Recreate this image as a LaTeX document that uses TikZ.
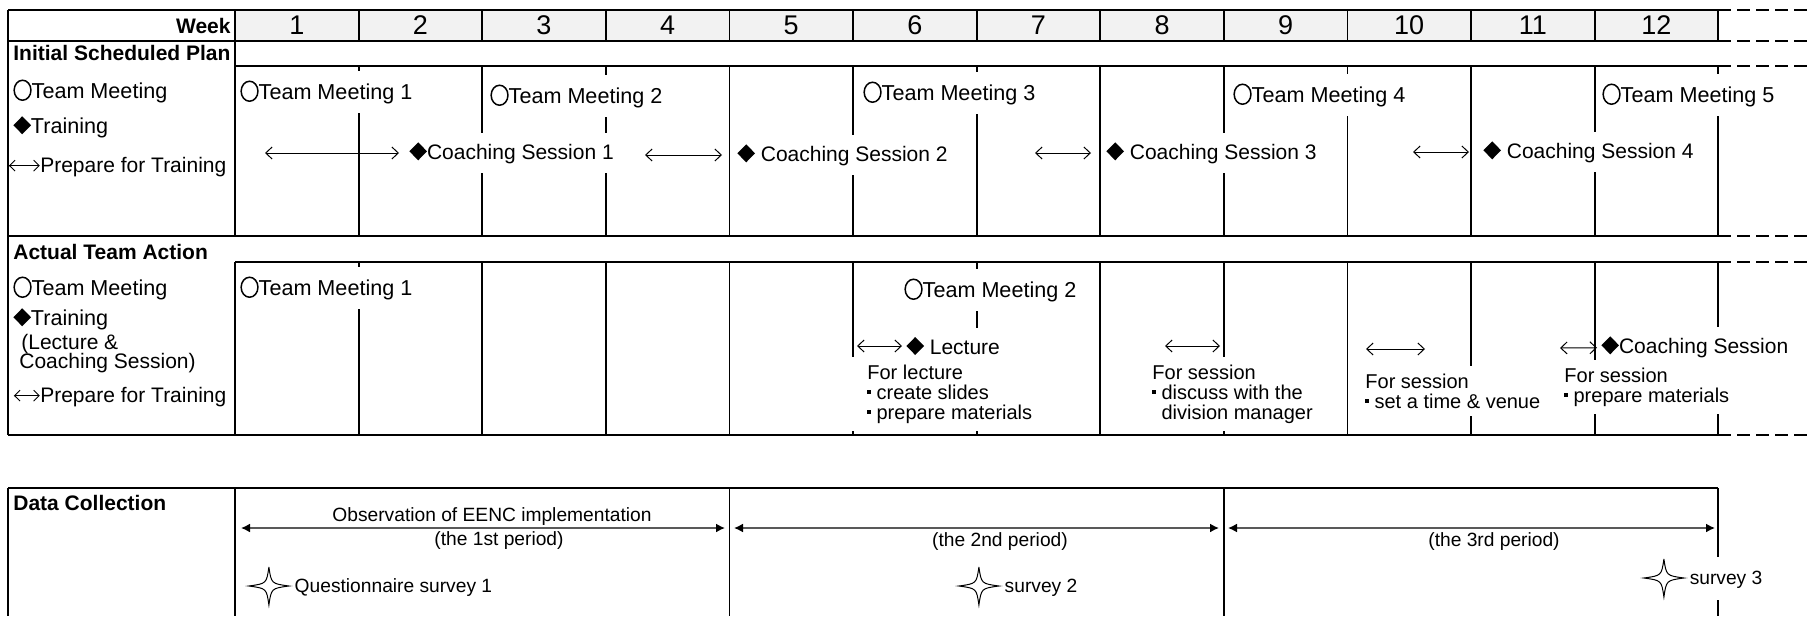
\documentclass[tikz,border=0pt]{standalone}
\usepackage{fontspec}
\setmainfont{Liberation Sans}
\usetikzlibrary{arrows.meta}

% small symbols that sit inside the labels
\newcommand{\mtg}{\tikz[baseline=-3.9pt]\draw[black,line width=0.75pt] (0,0) ellipse (4.2pt and 5pt);}
\newcommand{\trn}{\tikz[baseline=-4pt]\fill[black] (0,4.5pt) -- (4.4pt,0) -- (0,-4.5pt) -- (-4.4pt,0) -- cycle;}
\newcommand{\prp}[1]{\tikz[baseline=-3.4pt]\draw[black,line width=0.45pt,{Straight Barb[length=2.8pt,width=5.5pt]}-{Straight Barb[length=2.8pt,width=5.5pt]}] (0,0) -- (#1,0);}
\newcommand{\svy}{\tikz[baseline=-3.4pt]\draw[black,line width=0.5pt] (0,9.5pt) .. controls (1.2pt,1.2pt) .. (10pt,0) .. controls (1.2pt,-1.2pt) .. (0,-9.5pt) .. controls (-1.2pt,-1.2pt) .. (-10pt,0) .. controls (-1.2pt,1.2pt) .. (0,9.5pt);}
\newcommand{\bul}{\makebox[4.6pt][l]{\rule[2.8pt]{1.7pt}{1.7pt}}}

\newcommand{\txtfont}{\fontsize{10.5}{12}\selectfont}
\newcommand{\tmfont}{\fontsize{10.8}{12}\selectfont}
\newcommand{\notefont}{\fontsize{10}{10}\selectfont}
\newcommand{\datafont}{\fontsize{9.6}{11}\selectfont}
\newcommand{\wkfont}{\fontsize{13.5}{14}\selectfont}

\tikzset{
    frame/.style={line width=0.9pt},
    contline/.style={line width=1pt,dash pattern=on 6.5pt off 3pt},
    head/.style={anchor=west,inner sep=0pt,font=\bfseries\txtfont},
    leg/.style={anchor=west,inner sep=0pt,font=\txtfont},
    lbl/.style={anchor=west,fill=white,inner xsep=2pt,inner ysep=4.5pt,font=\txtfont},
    note/.style={anchor=west,fill=white,align=left,inner xsep=3pt,inner ysep=4pt,font=\notefont},
    prep/.style={line width=0.5pt,{Straight Barb[length=3.2pt,width=6pt]}-{Straight Barb[length=3.2pt,width=6pt]}},
    period/.style={line width=0.8pt,draw=black!65,{Latex[length=4.5pt,width=4.5pt,color=black]}-{Latex[length=4.5pt,width=4.5pt,color=black]}},
    datatxt/.style={inner sep=0pt,font=\datafont}
}

\begin{document}
\begin{tikzpicture}[x=0.5pt,y=-0.5pt]
\useasboundingbox (0,0) rectangle (1810,616);
\def\xo{235}
\def\wk{123.6}

% week header
\fill[black!5] (\xo,10) rectangle (1718,41);
\draw[frame] (8,10) -- (1718,10) (8,41) -- (1718,41);
\foreach \k in {0,...,12}
    \draw[frame] ({\xo+\k*\wk},10) -- ({\xo+\k*\wk},41);
\draw[line width=1.4pt] (1718,10) -- (1718,41);
\foreach \k in {1,...,12}
    \node[font=\wkfont] (w\k) at ({\xo+(\k-0.5)*\wk},25.5) {\k};

% plan and action blocks
\draw[frame] (8,10) -- (8,435);
\draw[frame] (\xo,10) -- (\xo,236) (\xo,262) -- (\xo,435);
\draw[frame] (\xo,66) -- (1718,66);
\draw[frame] (8,236) -- (1718,236);
\draw[frame] (\xo,262) -- (1718,262);
\draw[frame] (8,435) -- (1718,435);
\foreach \k in {1,...,12} {
    \draw[frame] ({\xo+\k*\wk},66) -- ++(0,170);
    \draw[frame] ({\xo+\k*\wk},262) -- ++(0,173);
}
\foreach \y in {10,41,66,236,262,435}
    \draw[contline] (1718,\y) -- (1810,\y);

% data collection block
\draw[frame] (8,488) -- (1718,488);
\foreach \x in {8,\xo,729.4,1223.8,1718}
    \draw[frame] (\x,488) -- (\x,616);

% left column
\node[head,anchor=east] (week) at (231,26) {Week};
\node[head] (plan) at (13,53) {Initial Scheduled Plan};
\node[leg,font=\tmfont] (lgtm) at (13,91) {\mtg Team Meeting};
\node[leg,font=\tmfont] (lgtr) at (13,127) {\trn Training};
\node[leg] (lgpr) at (8,167) {\prp{15.5pt}Prepare for Training};
\node[head] (act) at (13,252) {Actual Team Action};
\node[leg,font=\tmfont] (agtm) at (13,288) {\mtg Team Meeting};
\node[leg,font=\tmfont] (agtr) at (13,319) {\trn Training};
\node[leg] (agl1) at (21,344) {(Lecture \&};
\node[leg] (agl2) at (19,363) {Coaching Session)};
\node[leg] (agpr) at (13,397) {\prp{13pt}Prepare for Training};
\node[head] (data) at (13,503) {Data Collection};

% scheduled meetings and coaching sessions
\node[lbl,font=\tmfont] (tm1) at (236,92) {\mtg Team Meeting 1};
\node[lbl,font=\tmfont] (tm2) at (486,96) {\mtg Team Meeting 2};
\node[lbl,font=\tmfont] (tm3) at (859,93) {\mtg Team Meeting 3};
\node[lbl,font=\tmfont] (tm4) at (1229,95) {\mtg Team Meeting 4};
\node[lbl,font=\tmfont] (tm5) at (1598,95) {\mtg Team Meeting 5};
\node[lbl] (cs1) at (405,153) {\trn Coaching Session 1};
\node[lbl] (cs2) at (733,155) {\trn\ Coaching Session 2};
\node[lbl] (cs3) at (1102,153) {\trn\ Coaching Session 3\hspace*{12pt}};
\node[lbl] (cs4) at (1479,152) {\trn\ Coaching Session 4\hspace*{8pt}};
\coordinate (pr1) at (265,153);
\coordinate (pr2) at (645,155);
\coordinate (pr3) at (1035,153);
\coordinate (pr4) at (1413,152);
\draw[prep,shorten >=3pt] (pr1) -- (cs1);
\draw[prep,shorten >=5.5pt] (pr2) -- (cs2);
\draw[prep,shorten >=5.5pt] (pr3) -- (cs3);
\draw[prep,shorten >=5pt] (pr4) -- (cs4);

% what the team actually did
\node[lbl,font=\tmfont] (atm1) at (236,288) {\mtg Team Meeting 1};
\node[lbl,font=\tmfont] (atm2) at (900,290) {\mtg Team Meeting 2};
\node[lbl] (lec) at (902,346) {\trn\ Lecture};
\node[lbl] (acs) at (1597,347) {\trn Coaching Session};
\node[note,inner xsep=8pt] (n1) at (851,394)
    {For lecture\\\bul create slides\\\bul prepare materials};
\node[note] (n2) at (1146,394)
    {For session\\\bul discuss with the\\\hspace*{4.6pt}division manager};
\node[note] (n3) at (1359,391) {For session\\\bul set a time \& venue};
\node[note] (n4) at (1558,387) {For session\\\bul prepare materials};
\coordinate (ap1) at (857,346);
\coordinate (ap2a) at (1165,346);
\coordinate (ap2b) at (1220,346);
\coordinate (ap3a) at (1366,349);
\coordinate (ap3b) at (1425,349);
\coordinate (ap4) at (1560,348);
\draw[prep] (ap1) -- (lec);
\draw[prep] (ap2a) -- (ap2b);
\draw[prep] (ap3a) -- (ap3b);
\draw[prep] (ap4) -- (acs);

% observation periods and surveys
\coordinate (o1a) at (241,528);
\coordinate (o1b) at (725,528);
\coordinate (o2a) at (734,528);
\coordinate (o2b) at (1219,528);
\coordinate (o3a) at (1228,528);
\coordinate (o3b) at (1715,528);
\draw[period] (o1a) -- (o1b);
\draw[period] (o2a) -- (o2b);
\draw[period] (o3a) -- (o3b);
\node[datatxt] (obs) at (492,517) {Observation of EENC implementation};
\node[datatxt] (p1) at (499,541) {(the 1st period)};
\node[datatxt] (p2) at (1000,542) {(the 2nd period)};
\node[datatxt] (p3) at (1494,542) {(the 3rd period)};
\node[datatxt,anchor=west,fill=white,inner xsep=1pt,inner ysep=1pt] (sv1) at (246,586) {\svy\ Questionnaire survey 1};
\node[datatxt,anchor=west,fill=white,inner xsep=1pt,inner ysep=1pt] (sv2) at (956,586) {\svy\ survey 2};
\node[datatxt,anchor=west,fill=white,inner xsep=1pt,inner ysep=1pt] (sv3) at (1641,578) {\svy\ survey 3};
\end{tikzpicture}
\end{document}
